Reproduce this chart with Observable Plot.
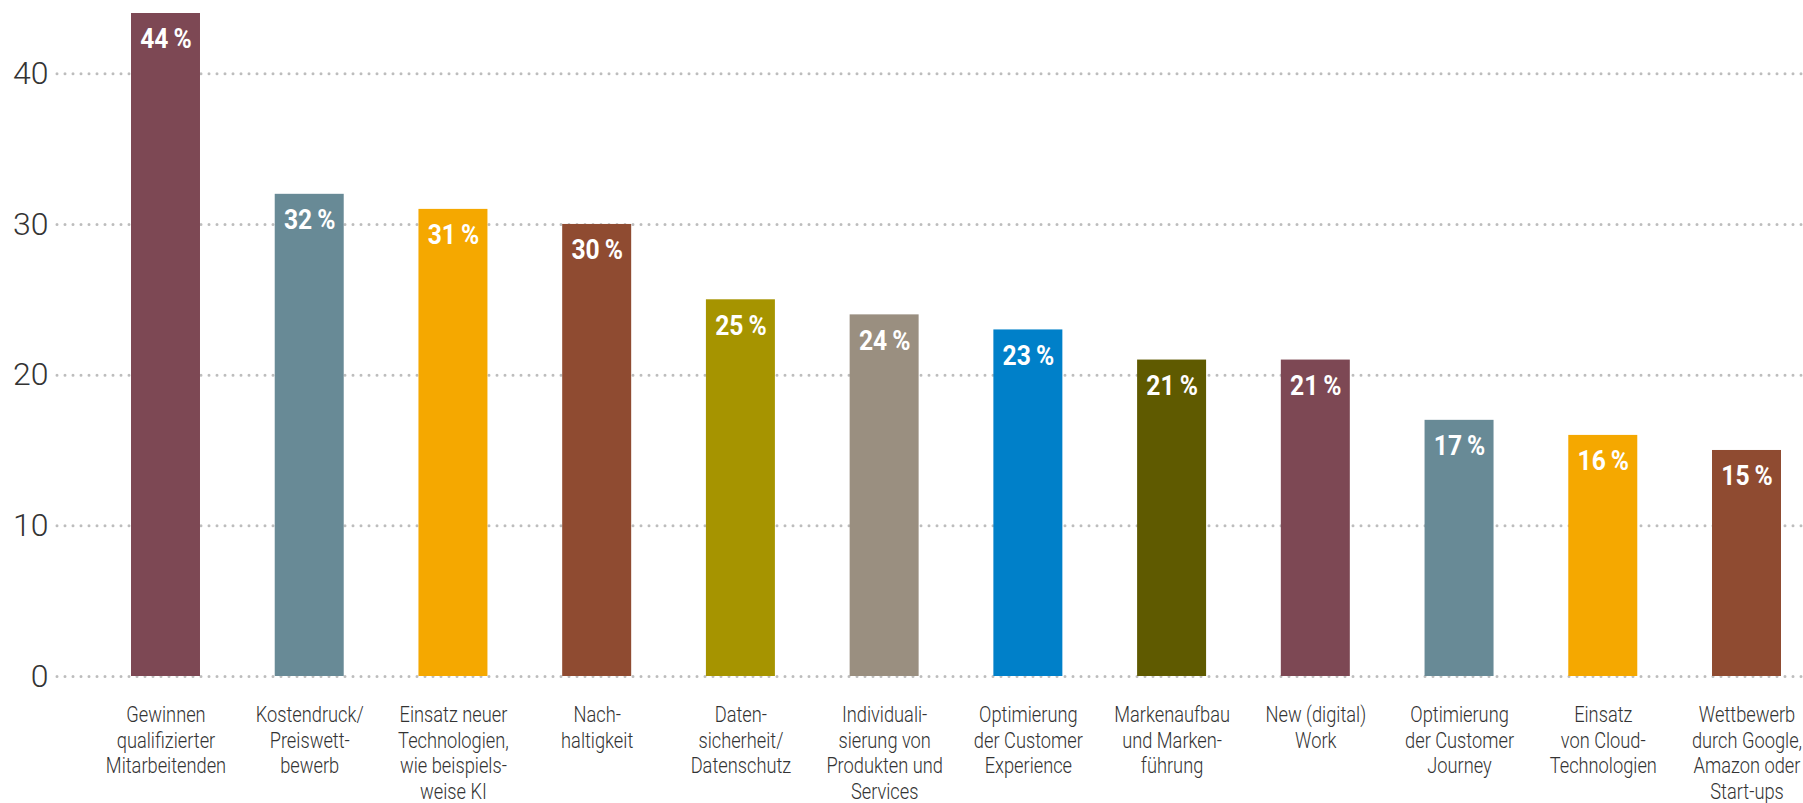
<!DOCTYPE html>
<html>
<head>
<meta charset="utf-8">
<script src="https://cdn.jsdelivr.net/npm/d3@7"></script>
<script src="https://cdn.jsdelivr.net/npm/@observablehq/plot@0.6"></script>
<style>
  html, body { margin: 0; padding: 0; background: #fff; }
  #chart svg { display: block; }
</style>
</head>
<body>
<div id="chart"></div>
<script>
const categories = [
  "Gewinnen\nqualifizierter\nMitarbeitenden",
  "Kostendruck/\nPreiswett-\nbewerb",
  "Einsatz neuer\nTechnologien,\nwie beispiels-\nweise KI",
  "Nach-\nhaltigkeit",
  "Daten-\nsicherheit/\nDatenschutz",
  "Individuali-\nsierung von\nProdukten und\nServices",
  "Optimierung\nder Customer\nExperience",
  "Markenaufbau\nund Marken-\nführung",
  "New (digital)\nWork",
  "Optimierung\nder Customer\nJourney",
  "Einsatz\nvon Cloud-\nTechnologien",
  "Wettbewerb\ndurch Google,\nAmazon oder\nStart-ups"
];
const values = [44, 32, 31, 30, 25, 24, 23, 21, 21, 17, 16, 15];
const palette = ["#7d4854", "#688a96", "#f5a800", "#8f4b31", "#a69400", "#9a8f80",
                 "#0080c9", "#5f5a00", "#7d4854", "#688a96", "#f5a800", "#8f4b31"];
const yTicks = [0, 10, 20, 30, 40];

const data = categories.map((c, i) => ({category: c, value: values[i], color: palette[i]}));

const font = "Roboto, 'Open Sans', sans-serif";

const chart = Plot.plot({
  width: 1803,
  height: 803,
  marginLeft: 57,
  marginRight: 0,
  marginTop: 13,
  marginBottom: 127,
  style: {background: "#fff", fontFamily: font},
  x: {domain: categories, range: [131, 1781], paddingInner: 0.52, paddingOuter: 0, round: false, label: null},
  y: {domain: [0, 44], label: null},
  marks: [
    Plot.ruleY(yTicks, {stroke: "#bdbdbd", strokeWidth: 3, strokeDasharray: "0,8", strokeLinecap: "round"}),
    Plot.barY(data, {x: "category", y: "value", fill: d => d.color}),
    Plot.text(data, {x: "category", y: "value", text: d => `${d.value}\u2009%`, dy: 26,
      fill: "white", fontSize: 28, fontWeight: "bold", fontFamily: font}),
    Plot.axisY({ticks: yTicks, tickSize: 0, tickPadding: 9, fontSize: 32, fill: "#333",
      fontFamily: font, fontWeight: 300, label: null}),
    Plot.axisX({tickSize: 0, tickPadding: 27, fontSize: 22, lineHeight: 1.17, fill: "#333",
      fontFamily: font, fontWeight: 300, label: null})
  ]
});
document.getElementById("chart").appendChild(chart);

// narrow the category labels to mimic the condensed typeface
d3.select(chart).selectAll("g[aria-label='x-axis tick label'] text").each(function() {
  const t = this.getAttribute("transform") || "";
  this.setAttribute("transform", t + " scale(0.83,1)");
});
d3.select(chart).selectAll("g[aria-label='text'] text").each(function() {
  const t = this.getAttribute("transform") || "";
  this.setAttribute("transform", t + " scale(0.88,1)");
});
</script>
</body>
</html>
